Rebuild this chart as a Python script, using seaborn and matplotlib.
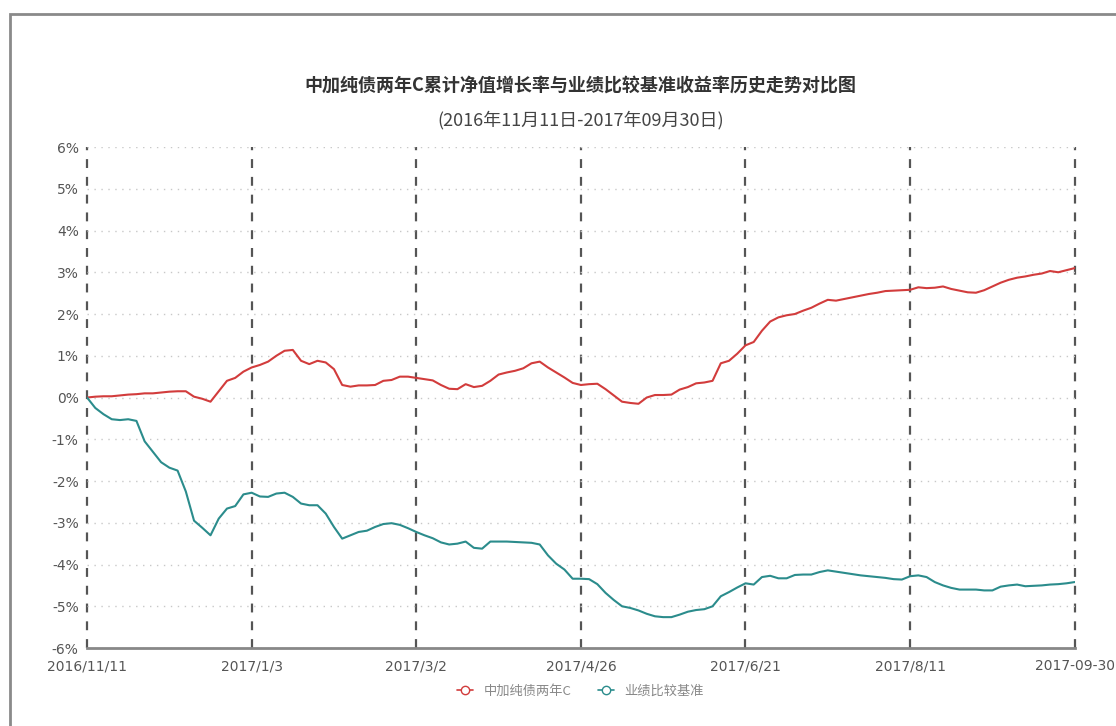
import numpy as np
import matplotlib
matplotlib.use("Agg")
import matplotlib.pyplot as plt
import pandas as pd
import seaborn as sns

# tick labels on the trading-day axis (one label every 20 points)
date_labels = ["2016/11/11", "2017/1/3", "2017/3/2", "2017/4/26",
               "2017/6/21", "2017/8/11", "2017-09-30"]

# cumulative NAV growth of the fund, %
fund = [0.00, 0.02, 0.03, 0.03, 0.05, 0.07, 0.08, 0.10, 0.10, 0.12,
        0.14, 0.15, 0.15, 0.02, -0.03, -0.10, 0.15, 0.40, 0.47, 0.62,
        0.72, 0.78, 0.86, 1.00, 1.12, 1.14, 0.88, 0.80, 0.88, 0.84,
        0.68, 0.30, 0.26, 0.29, 0.29, 0.30, 0.40, 0.42, 0.50, 0.50,
        0.47, 0.44, 0.41, 0.30, 0.21, 0.20, 0.32, 0.25, 0.28, 0.40,
        0.55, 0.60, 0.64, 0.70, 0.82, 0.86, 0.72, 0.60, 0.48, 0.35,
        0.30, 0.32, 0.33, 0.20, 0.05, -0.10, -0.13, -0.15, 0.00, 0.06,
        0.06, 0.07, 0.19, 0.25, 0.34, 0.36, 0.40, 0.82, 0.88, 1.05,
        1.25, 1.33, 1.60, 1.82, 1.92, 1.97, 2.00, 2.08, 2.15, 2.25,
        2.34, 2.32, 2.36, 2.40, 2.44, 2.48, 2.51, 2.55, 2.56, 2.57,
        2.58, 2.64, 2.62, 2.63, 2.66, 2.60, 2.56, 2.52, 2.51, 2.57,
        2.66, 2.75, 2.82, 2.87, 2.90, 2.94, 2.97, 3.03, 3.00, 3.05,
        3.10]

# benchmark return, %
bench = [0.00, -0.25, -0.40, -0.52, -0.54, -0.52, -0.56, -1.05, -1.30, -1.55,
         -1.68, -1.75, -2.25, -2.95, -3.12, -3.30, -2.90, -2.66, -2.60, -2.32,
         -2.28, -2.37, -2.38, -2.30, -2.28, -2.38, -2.54, -2.58, -2.58, -2.78,
         -3.10, -3.38, -3.30, -3.22, -3.19, -3.10, -3.03, -3.01, -3.05, -3.13,
         -3.22, -3.30, -3.37, -3.47, -3.52, -3.50, -3.45, -3.60, -3.62, -3.45,
         -3.45, -3.45, -3.46, -3.47, -3.48, -3.52, -3.78, -3.98, -4.12, -4.34,
         -4.34, -4.35, -4.47, -4.68, -4.85, -5.00, -5.04, -5.10, -5.18, -5.24,
         -5.26, -5.26, -5.20, -5.13, -5.09, -5.07, -5.00, -4.76, -4.66, -4.55,
         -4.45, -4.48, -4.30, -4.27, -4.33, -4.33, -4.25, -4.24, -4.24, -4.18,
         -4.14, -4.17, -4.20, -4.23, -4.26, -4.28, -4.30, -4.32, -4.35, -4.36,
         -4.28, -4.26, -4.30, -4.42, -4.50, -4.56, -4.60, -4.60, -4.60, -4.62,
         -4.62, -4.53, -4.50, -4.48, -4.52, -4.51, -4.50, -4.48, -4.47, -4.45,
         -4.42]

names = ["中加纯债两年C", "业绩比较基准"]
y_ticks = [6, 5, 4, 3, 2, 1, 0, -1, -2, -3, -4, -5, -6]

sns.set_style("white")
plt.rcParams['font.family'] = ['Noto Sans CJK SC', 'DejaVu Sans']

n = len(fund)
df = pd.DataFrame({
    "day": list(range(n)) * 2,
    "value": fund + bench,
    "series": [names[0]] * n + [names[1]] * n,
})

fig = plt.figure(figsize=(11.16, 7.26), dpi=100)
ax = fig.add_axes([0.078, 0.1074, 0.885, 0.6901])

palette = {names[0]: "#d23c3c", names[1]: "#2b8c8c"}
sns.lineplot(data=df, x="day", y="value", hue="series", palette=palette,
             linewidth=1.5, ax=ax, legend=False)

step = (n - 1) // (len(date_labels) - 1)
ax.set_xlim(0, n - 1)
ax.set_ylim(-6, 6)
ax.set_xticks(range(0, n, step))
ax.set_xticklabels(date_labels, family=['DejaVu Sans'])
ax.set_yticks(y_ticks)
ax.set_yticklabels([f"{v}%" for v in y_ticks], family=['DejaVu Sans'])
ax.tick_params(axis="both", labelsize=10, colors="#555555", length=0)
ax.tick_params(axis="x", pad=8)
ax.tick_params(axis="y", pad=6)
ax.set_xlabel("")
ax.set_ylabel("")

ax.grid(axis="y", linestyle=(0, (1, 4)), color="#c8c8c8", linewidth=1)
for xt in range(0, n, step):
    ax.axvline(xt, color="#555555", linestyle=(0, (4, 4)), linewidth=1.6,
               zorder=0.5, clip_on=False)

for s in ["top", "right", "left"]:
    ax.spines[s].set_visible(False)
ax.spines["bottom"].set_color("#888888")
ax.spines["bottom"].set_linewidth(2)

fig.text(0.52, 0.883, "中加纯债两年C累计净值增长率与业绩比较基准收益率历史走势对比图",
         ha="center", va="center", fontsize=13, fontweight="bold", color="#333333")
fig.text(0.52, 0.835, "(2016年11月11日-2017年09月30日)",
         ha="center", va="center", fontsize=13, color="#444444")

handles = [plt.Line2D([], [], color=palette[nm], marker="o", markersize=6,
                      markerfacecolor="white", linewidth=1.2) for nm in names]
fig.legend(handles, names, loc="center", bbox_to_anchor=(0.52, 0.048),
           ncol=2, frameon=False, fontsize=9.5, labelcolor="#888888",
           handlelength=1.2, columnspacing=2.0)

# outer frame of the picture
fig.patches.append(plt.Rectangle((0.009, -0.02), 1.2, 1.001, transform=fig.transFigure,
                                 fill=False, edgecolor="#8a8a8a", linewidth=2))

fig.savefig("out.png", dpi=100)
